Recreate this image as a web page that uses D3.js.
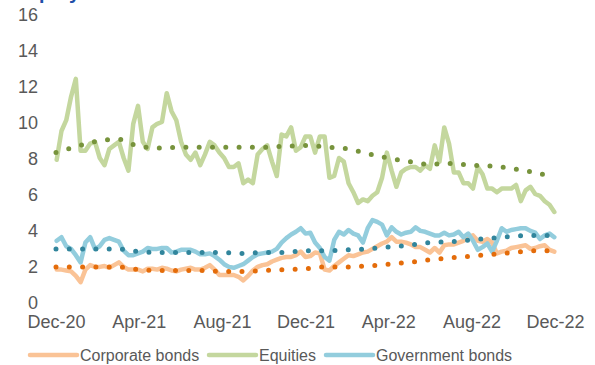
<!DOCTYPE html>
<html>
<head>
<meta charset="utf-8">
<script src="https://cdn.jsdelivr.net/npm/d3@7"></script>
<style>
  html, body { margin: 0; padding: 0; background: #fff; }
  svg { display: block; font-family: "Liberation Sans", Arial, sans-serif; }
</style>
</head>
<body>
<svg id="chart" width="595" height="365"></svg>
<script>
// Weekly observations, first one on 2 Dec 2020
const weekStart = new Date(2020, 11, 2);
const weekCount = 105;

const corporateBonds = [
  1.8, 1.8, 1.75, 1.7, 1.45, 1.1, 1.8, 2.05, 1.95, 1.95,
  2.0, 1.9, 2.05, 2.2, 1.95, 1.8, 1.8, 1.8, 1.7, 1.85,
  1.85, 1.8, 1.9, 1.85, 1.75, 1.7, 1.8, 1.85, 1.9, 1.8,
  1.8, 1.9, 2.05, 1.8, 1.5, 1.5, 1.5, 1.5, 1.4, 1.2,
  1.45, 1.75, 1.95, 2.05, 2.1, 2.25, 2.35, 2.45, 2.5, 2.5,
  2.6, 2.8, 2.5, 2.55, 2.75, 2.7, 1.8, 1.75, 2.0, 2.2,
  2.4, 2.6, 2.55, 2.65, 2.75, 2.8, 2.95, 3.1, 3.25, 3.35,
  3.6, 3.35, 3.35, 3.3, 3.2, 3.05, 3.05, 2.9, 2.75, 3.0,
  2.75, 3.15, 3.2, 3.2, 3.3, 3.4, 3.6, 3.7, 3.4, 3.35,
  3.5, 3.3, 2.7, 2.8, 2.85, 3.0, 3.05, 3.1, 3.15, 2.95,
  3.0, 3.1, 3.15, 2.9, 2.8
];

const equities = [
  7.9, 9.5, 10.1, 11.4, 12.4, 8.4, 8.4, 8.8, 8.9, 8.0,
  7.6, 8.5, 8.7, 8.9, 8.0, 7.3, 9.9, 10.9, 8.9, 8.5,
  9.7, 9.9, 10.0, 11.6, 10.6, 10.1, 8.9, 8.2, 7.9, 8.3,
  7.6, 8.2, 8.9, 8.7, 8.3, 8.0, 7.5, 7.5, 7.7, 6.6,
  6.8, 6.6, 8.2, 8.5, 8.7, 7.8, 7.0, 9.3, 9.2, 9.7,
  8.4, 8.6, 9.2, 9.2, 8.3, 9.2, 9.2, 6.9, 7.0, 8.0,
  7.8, 6.6, 6.1, 5.5, 5.7, 5.6, 5.9, 6.1, 6.9, 8.3,
  7.3, 6.4, 7.2, 7.4, 7.5, 7.5, 7.3, 7.6, 7.4, 8.7,
  7.8, 9.7, 8.8, 7.2, 7.2, 6.6, 6.6, 6.3, 7.5, 7.1,
  6.3, 6.3, 6.1, 6.3, 6.3, 6.3, 6.5, 5.6, 6.2, 6.4,
  6.0, 5.9, 5.6, 5.4, 5.0
];

const governmentBonds = [
  3.4, 3.6, 3.1, 2.95, 2.6, 2.2, 3.3, 3.6, 2.95, 3.1,
  3.45, 3.55, 3.45, 3.35, 2.85, 2.6, 2.6, 2.7, 2.8, 3.0,
  2.95, 2.95, 3.0, 3.0, 2.75, 2.8, 2.9, 2.9, 2.9, 2.8,
  2.65, 2.65, 2.7, 2.55, 2.35, 2.1, 1.95, 1.9, 2.0, 2.1,
  2.3, 2.5, 2.65, 2.7, 2.75, 2.8, 2.95, 3.3, 3.55, 3.75,
  3.9, 4.1, 3.8, 3.85, 3.3, 3.0, 2.5, 2.3, 3.45, 3.9,
  3.75, 4.0, 3.8, 3.7, 3.3, 4.1, 4.55, 4.45, 4.3, 3.7,
  4.15, 3.9, 3.75, 3.85, 3.9, 4.15, 3.95, 3.9, 3.8, 3.7,
  3.7, 3.85, 3.7, 3.75, 3.9, 3.6, 3.8, 3.4, 2.9, 3.05,
  3.25, 2.8, 3.4, 4.1, 3.9, 4.0, 4.05, 4.1, 4.1, 3.95,
  3.85, 3.5, 3.7, 3.8, 3.6
];

// Monthly trend values, Dec-20 to Dec-22
const trendStart = new Date(2020, 11, 1);
const corporateTrend = [
  1.95, 1.95, 1.95, 1.95, 1.8, 1.75, 1.75, 1.75, 1.7, 1.7,
  1.75, 1.8, 1.85, 1.95, 1.95, 2.0, 2.1, 2.2, 2.35, 2.45,
  2.55, 2.65, 2.75, 2.85, 2.85
];
const equitiesTrend = [
  8.3, 8.65, 8.95, 9.05, 8.65, 8.55, 8.6, 8.6, 8.6, 8.6,
  8.6, 8.65, 8.7, 8.6, 8.5, 8.25, 8.0, 7.8, 7.65, 7.7,
  7.6, 7.55, 7.4, 7.2, 6.9
];
const governmentTrend = [
  2.95, 2.95, 2.95, 2.95, 2.8, 2.75, 2.75, 2.75, 2.75, 2.7,
  2.75, 2.75, 2.85, 2.85, 2.9, 2.95, 3.05, 3.15, 3.3, 3.35,
  3.45, 3.55, 3.65, 3.7, 3.7
];

const yTicks = [0, 2, 4, 6, 8, 10, 12, 14, 16];
const xTickDates = ["2020-12-01", "2021-04-01", "2021-08-01", "2021-12-01", "2022-04-01", "2022-08-01", "2022-12-01"];
const xTickLabels = ["Dec-20", "Apr-21", "Aug-21", "Dec-21", "Apr-22", "Aug-22", "Dec-22"];

const seriesNames = ["Corporate bonds", "Equities", "Government bonds"];
const lineColors = ["#FAC396", "#C4D79E", "#93CDDD"];
const trendColors = ["#E46C0A", "#77933C", "#31859C"];

const svg = d3.select("#chart");
const textColor = "#595959";

const weekDates = d3.range(weekCount).map(i => d3.timeDay.offset(weekStart, 7 * i));
const monthDates = d3.range(corporateTrend.length).map(i => d3.timeMonth.offset(trendStart, i));
const parse = d3.timeParse("%Y-%m-%d");

const x = d3.scaleTime()
  .domain([parse(xTickDates[0]), parse(xTickDates[xTickDates.length - 1])])
  .range([56, 555]);
const y = d3.scaleLinear().domain([0, 16]).range([302, 14]);

// Title (sits above the visible area)
svg.append("text")
  .attr("x", 19).attr("y", -1)
  .attr("fill", "#1F4FA8")
  .attr("font-size", 20).attr("font-weight", "bold")
  .text("Equity");

// Y axis labels
const yAxis = d3.axisLeft(y).tickValues(yTicks).tickSize(0).tickPadding(0).tickFormat(d3.format("d"));
const gy = svg.append("g").attr("transform", "translate(38,0)").call(yAxis);
gy.select(".domain").remove();
gy.selectAll("text").attr("fill", textColor).attr("font-size", 18)
  .attr("font-family", "'Liberation Sans', Arial, sans-serif").attr("dy", "0.35em");

// X axis labels
const xAxis = d3.axisBottom(x).tickValues(xTickDates.map(parse)).tickSize(0).tickPadding(0)
  .tickFormat((d, i) => xTickLabels[i]);
const gx = svg.append("g").attr("transform", "translate(0,315)").call(xAxis);
gx.select(".domain").remove();
gx.selectAll("text").attr("fill", textColor).attr("font-size", 18)
  .attr("font-family", "'Liberation Sans', Arial, sans-serif").attr("dy", "0.71em");

const weekly = [corporateBonds, equities, governmentBonds];
const trends = [corporateTrend, equitiesTrend, governmentTrend];

const line = d3.line()
  .x((d, i) => x(weekDates[i]))
  .y(d => y(d));

const trendLine = d3.line()
  .x((d, i) => x(monthDates[i]))
  .y(d => y(d))
  .curve(d3.curveMonotoneX);

const plot = svg.append("g");

plot.selectAll("path.series")
  .data(weekly)
  .join("path")
  .attr("class", "series")
  .attr("d", line)
  .attr("fill", "none")
  .attr("stroke", (d, i) => lineColors[i])
  .attr("stroke-width", 4.5)
  .attr("stroke-linejoin", "round")
  .attr("stroke-linecap", "round");

plot.selectAll("path.trend")
  .data(trends)
  .join("path")
  .attr("class", "trend")
  .attr("d", trendLine)
  .attr("fill", "none")
  .attr("stroke", (d, i) => trendColors[i])
  .attr("stroke-width", 5)
  .attr("stroke-linecap", "round")
  .attr("stroke-dasharray", "0 13.3");

// Legend
const legendX = [30, 209, 326];
const legend = svg.append("g").attr("transform", "translate(0,355)");
const items = legend.selectAll("g").data(seriesNames).join("g")
  .attr("transform", (d, i) => `translate(${legendX[i]},0)`);
items.append("line")
  .attr("x1", 0).attr("x2", 47).attr("y1", 0).attr("y2", 0)
  .attr("stroke", (d, i) => lineColors[i])
  .attr("stroke-width", 4.5)
  .attr("stroke-linecap", "round");
items.append("text")
  .attr("x", 50).attr("y", 0).attr("dy", "0.35em")
  .attr("font-size", 16).attr("fill", textColor)
  .text(d => d);
</script>
</body>
</html>
